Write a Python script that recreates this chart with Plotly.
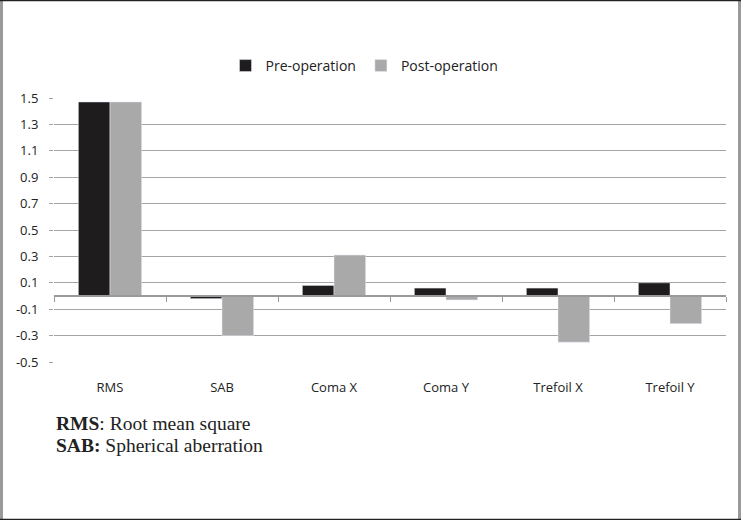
import plotly.graph_objects as go

categories = ["RMS", "SAB", "Coma X", "Coma Y", "Trefoil X", "Trefoil Y"]
pre_op = [1.47, -0.02, 0.08, 0.06, 0.06, 0.10]
post_op = [1.47, -0.30, 0.31, -0.03, -0.35, -0.21]
y_ticks = [-0.5, -0.3, -0.1, 0.1, 0.3, 0.5, 0.7, 0.9, 1.1, 1.3, 1.5]

W, H = 744, 520
L, R, T, B = 54, 18, 98, 158
pw, ph = W - L - R, H - T - B

TICK_FONT = dict(family="Open Sans", size=13, color="#222")


def px_x(x):
    return (x - L) / pw


def px_y(y):
    return (T + ph - y) / ph


fig = go.Figure()
fig.add_trace(go.Bar(name="Pre-operation", x=categories, y=pre_op, marker_color="#1e1c1d"))
fig.add_trace(go.Bar(name="Post-operation", x=categories, y=post_op, marker_color="#a9a9aa"))

fig.update_layout(
    width=W, height=H,
    margin=dict(l=L, r=R, t=T, b=B, autoexpand=False),
    paper_bgcolor="white", plot_bgcolor="white",
    barmode="group", bargap=0.435, bargroupgap=0,
    font=TICK_FONT,
    legend=dict(orientation="h", x=px_x(364.5), xanchor="center", y=1 + 32 / ph, yanchor="middle",
                font=dict(family="Open Sans", size=14, color="#222"), itemwidth=30),
    xaxis=dict(showgrid=False, showline=False, ticks="", zeroline=False,
               tickfont=TICK_FONT, ticklabelstandoff=16),
    xaxis2=dict(overlaying="x", matches="x", anchor="free", position=0.25, side="bottom",
                showline=True, linecolor="#999", linewidth=1.5, ticks="outside",
                tickson="boundaries", ticklen=5, tickcolor="#999", showticklabels=False,
                showgrid=False, zeroline=False),
    yaxis=dict(range=[-0.5, 1.5], tickvals=y_ticks, ticktext=[f"{v:.1f}" for v in y_ticks],
               showgrid=True, gridcolor="#a4a4a4", gridwidth=1.3, zeroline=False,
               ticks="outside", ticklen=4, tickcolor="#a4a4a4", showline=False,
               tickfont=TICK_FONT, ticklabelstandoff=8),
)

# Dummy trace to make the zero-line axis render
fig.add_trace(go.Scatter(x=categories, y=[None] * len(categories), xaxis="x2",
                         showlegend=False, hoverinfo="skip"))

fig.add_annotation(xref="paper", yref="paper", x=0.0, y=-61 / ph, xanchor="left", yanchor="middle",
                   text="<b>RMS</b>: Root mean square", showarrow=False,
                   font=dict(family="Liberation Serif", size=19.5, color="#222"))
fig.add_annotation(xref="paper", yref="paper", x=0.0, y=-83 / ph, xanchor="left", yanchor="middle",
                   text="<b>SAB:</b> Spherical aberration", showarrow=False,
                   font=dict(family="Liberation Serif", size=19.5, color="#222"))

# Outer frame: gray sides, dark top and bottom edges
for x in (1.5, 739.5):
    fig.add_shape(type="line", xref="paper", yref="paper", x0=px_x(x), x1=px_x(x),
                  y0=px_y(0), y1=px_y(H), line=dict(color="#9a9a9a", width=3))
for y in (0.5, H - 0.5):
    fig.add_shape(type="line", xref="paper", yref="paper", x0=px_x(0), x1=px_x(741),
                  y0=px_y(y), y1=px_y(y), line=dict(color="#222", width=1.5))

fig.write_html("out.html", config={"displayModeBar": False},
               post_script="document.body.style.margin='0';")
